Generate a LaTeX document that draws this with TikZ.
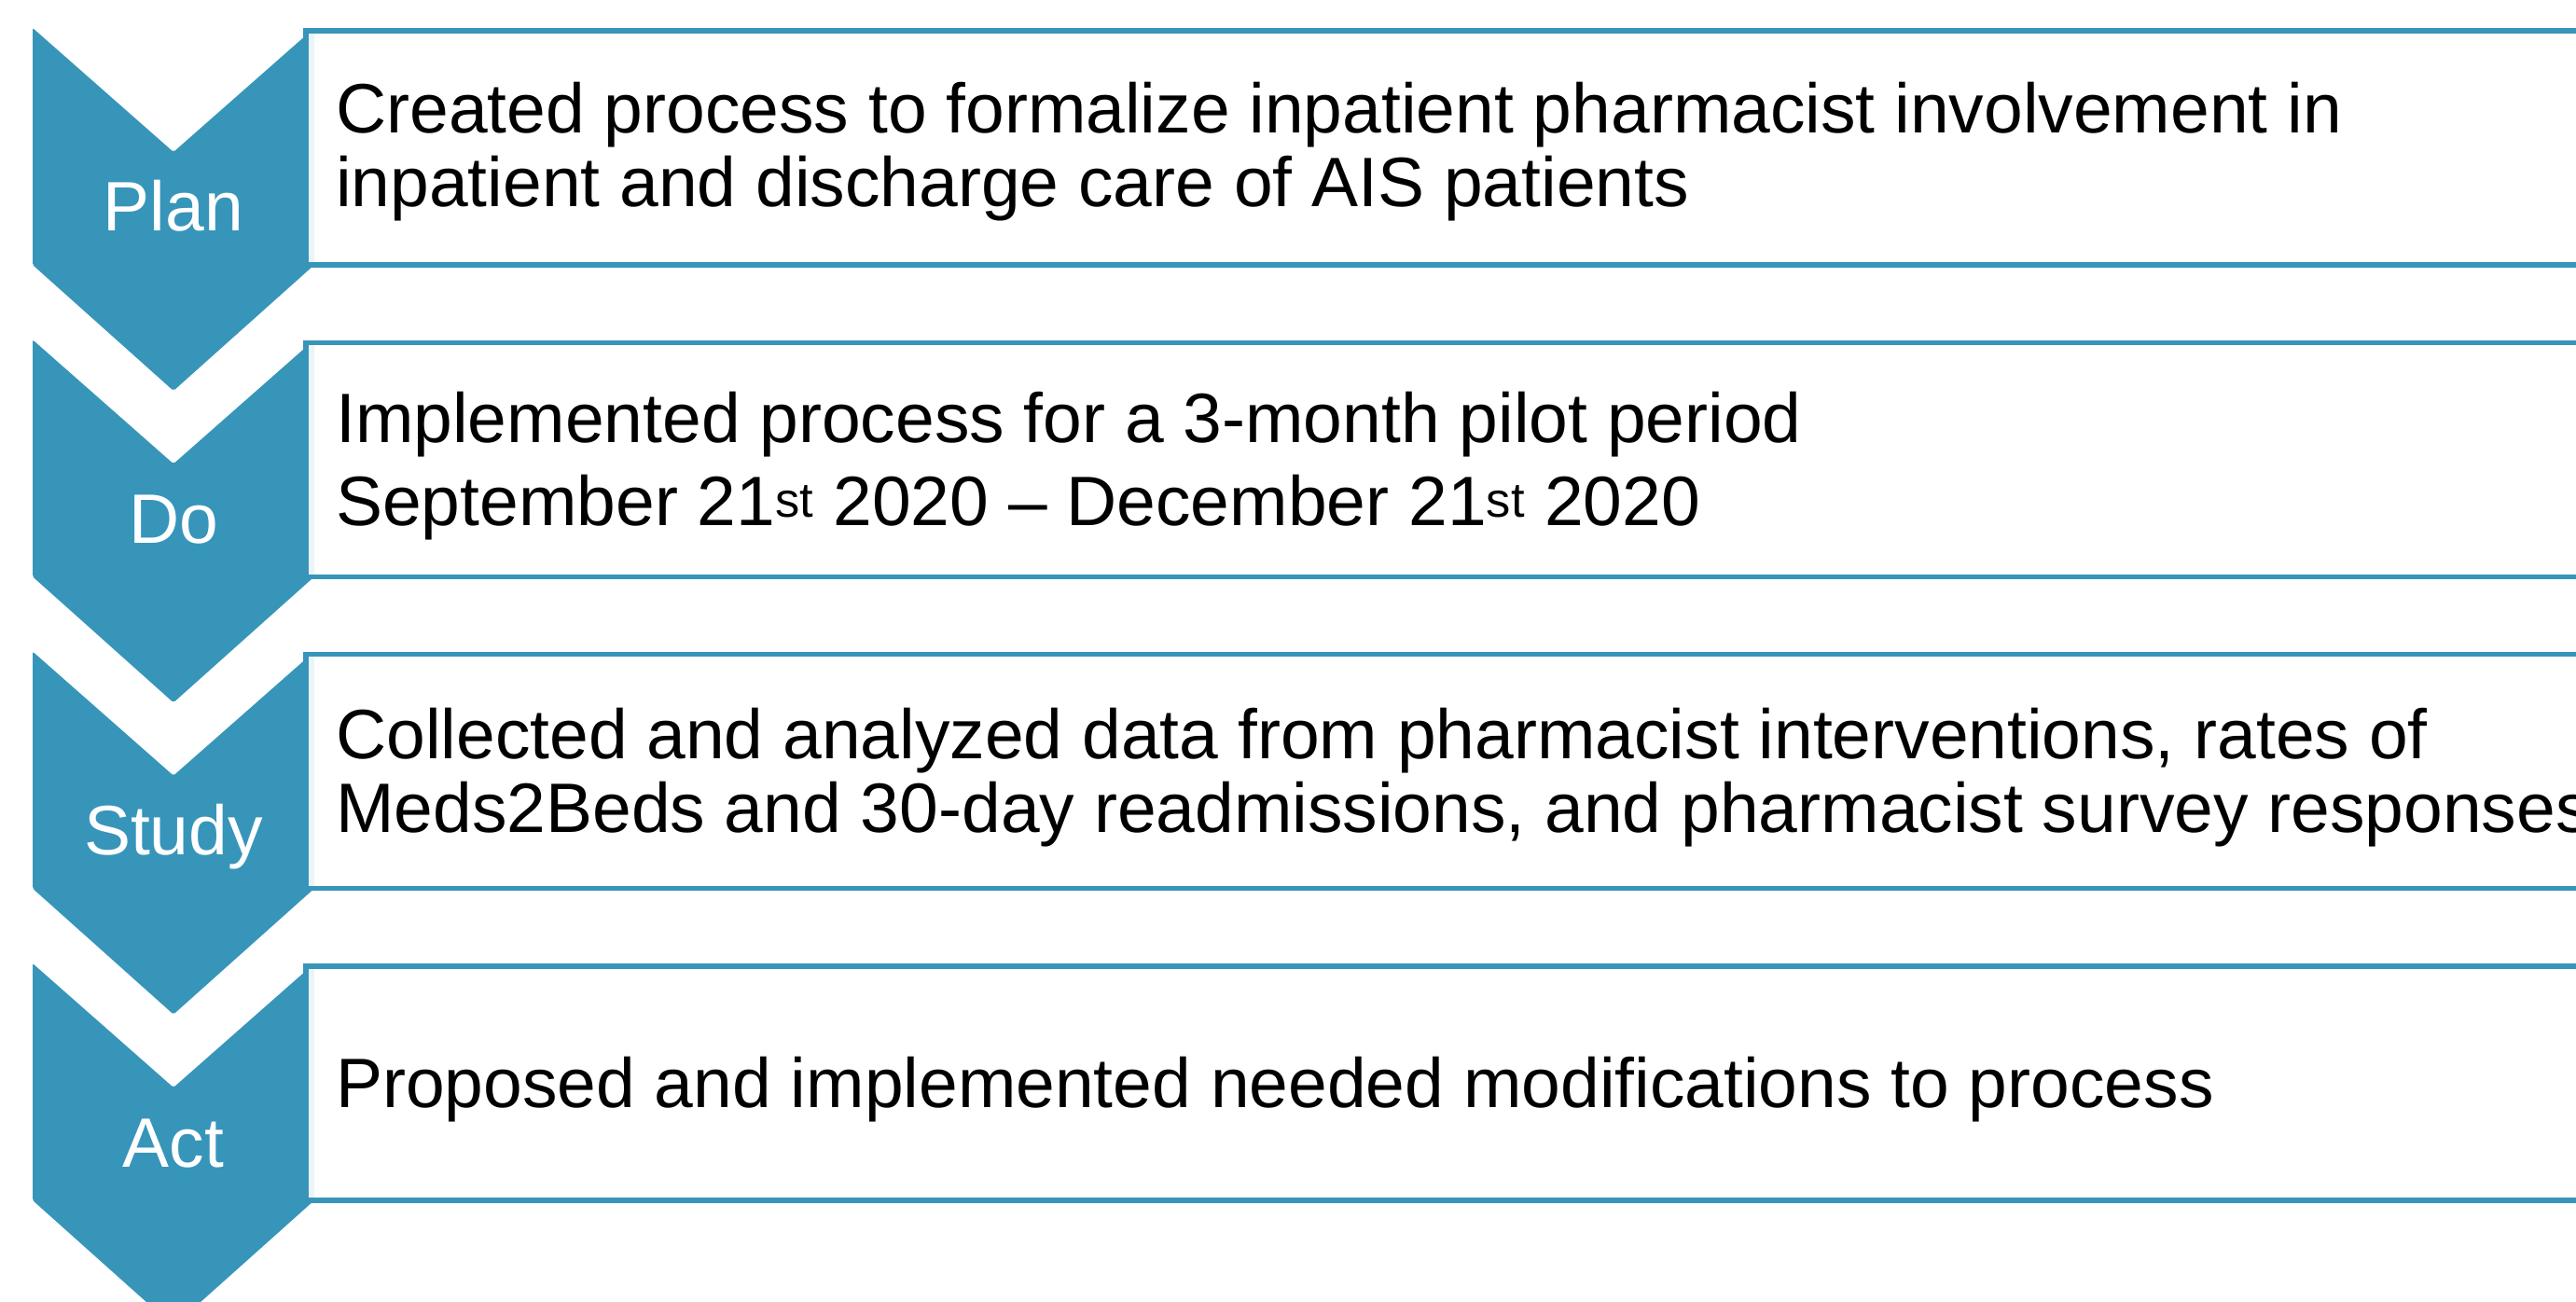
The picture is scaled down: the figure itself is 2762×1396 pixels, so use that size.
\documentclass[tikz,border=0pt]{standalone}
\usepackage{fontspec}
\setmainfont{Liberation Sans}
\definecolor{pdcablue}{HTML}{3795BA}

% One PDCA stage: chevron, outlined text box and the stage label.
% #1 node-name prefix, #2 top edge (px), #3 label, #4 last baseline offset, #5 box text
\newcommand{\pdcastage}[5]{%
  \fill[chevron] (35,#2) -- (186,{#2+133}) -- (337,#2) -- (337,{#2+254})
       -- (186,{#2+389}) -- (35,{#2+254}) -- cycle;
  \draw[stepbox] (328,{#2+3}) rectangle (2820,{#2+254});
  \node[steplabel] (#1label) at (186,{#2+218}) {#3};
  \node[steptext] (#1text) at (360,{#2+#4}) {#5};
}

\begin{document}
\begin{tikzpicture}[x=1pt,y=-1pt,
  chevron/.style={fill=pdcablue, rounded corners=2pt},
  stepbox/.style={draw=pdcablue, line width=5.3pt, fill=white, fill opacity=0.9},
  steplabel/.style={text=white, font=\fontsize{75}{79}\selectfont,
                    anchor=base, inner sep=0pt},
  steptext/.style={text=black, font=\fontsize{75}{79.5}\selectfont,
                   anchor=base west, align=left, inner sep=0pt},
]
\clip (0,0) rectangle (2762,1396);
\fill[white] (0,0) rectangle (2762,1396);

\pdcastage{plan}{30}{Plan}{192}{Created process to formalize inpatient pharmacist involvement in\\
inpatient and discharge care of AIS patients}

\pdcastage{do}{364.3}{Do}{199}{Implemented process for a 3-month pilot period\\[9pt]
September 21\textsuperscript{st} 2020 – December 21\textsuperscript{st} 2020}

\pdcastage{study}{698.6}{Study}{194}{Collected and analyzed data from pharmacist interventions, rates of\\
Meds2Beds and 30-day readmissions, and pharmacist survey responses}

\pdcastage{act}{1033}{Act}{154}{Proposed and implemented needed modifications to process}
\end{tikzpicture}
\end{document}
